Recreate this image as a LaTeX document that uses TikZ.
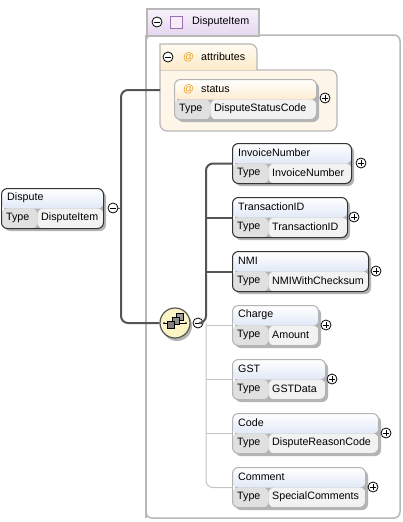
\documentclass[tikz,border=0pt]{standalone}
\usepackage{fontspec}
\setmainfont{Liberation Sans}
\definecolor{hdblue}{HTML}{C3D4F0}
\definecolor{hdorange}{HTML}{FCD9A0}
\definecolor{typec}{HTML}{E0E0E0}
\definecolor{valc}{HTML}{F2F2F2}
\definecolor{darkb}{HTML}{333333}
\definecolor{lightb}{HTML}{B4B4B4}
\definecolor{contb}{HTML}{B8B8B8}
\definecolor{lavtop}{HTML}{F8F2FC}
\definecolor{lavbot}{HTML}{E4D6EE}
\definecolor{creamtop}{HTML}{FFFBF2}
\definecolor{creambot}{HTML}{FDE9C8}
\definecolor{creamfill}{HTML}{FDF6E9}
\definecolor{seqfill}{HTML}{FBF5C6}
\definecolor{darkline}{HTML}{555555}
\definecolor{lightline}{HTML}{C4C4C4}
\definecolor{shadowc}{HTML}{B4B4B4}
\definecolor{sqborder}{HTML}{9B6FB0}
\definecolor{sqfill}{HTML}{F4EDF8}
\definecolor{atorange}{HTML}{E8A020}
\definecolor{icA}{HTML}{9A9A9A}
\definecolor{icB}{HTML}{8C8C8C}
\definecolor{icC}{HTML}{808080}
\tikzset{
  lbl/.style={inner sep=0pt, font=\fontsize{10.7}{12}\selectfont, text=black},
  pmc/.style={draw=black, circle, line width=0.8pt, minimum size=10pt, inner sep=0pt, fill=white},
  darkconn/.style={draw=darkline, line width=2pt, rounded corners=7pt},
  lightconn/.style={draw=lightline, line width=1pt, rounded corners=7pt},
}
% #1 name, #2 x, #3 y, #4 width, #5 title, #6 type, #7 border, #8 header colour
\newcommand\xelem[8]{%
  \fill[shadowc, rounded corners=6pt] ({#2+3},{#3+3}) rectangle ({#2+#4+3},{#3+43});
  \node[draw=#7, line width=1pt, rounded corners=6pt, inner sep=0pt,
    minimum width=#4pt, minimum height=40pt, anchor=north west,
    path picture={
      \shade[top color=white, bottom color=#8] (path picture bounding box.north west) rectangle (path picture bounding box.east);
      \fill[typec] (path picture bounding box.west) rectangle ([xshift=36pt]path picture bounding box.south west);
      \fill[valc] ([xshift=36pt]path picture bounding box.west) rectangle (path picture bounding box.south east);
    }] (#1) at (#2,#3) {};
  \node[lbl, anchor=west] (#1-t) at ({#2+6},{#3+10}) {#5};
  \node[lbl, anchor=west] (#1-k) at ({#2+5},{#3+30}) {Type};
  \node[lbl, anchor=west] (#1-v) at ({#2+40},{#3+30}) {#6};
}
\newcommand\xplus[3]{%
  \node[pmc] (#1) at (#2,#3) {};
  \draw[line width=0.8pt] ([xshift=-2.6pt]#1.center) -- ([xshift=2.6pt]#1.center);
  \draw[line width=0.8pt] ([yshift=-2.6pt]#1.center) -- ([yshift=2.6pt]#1.center);
}
\newcommand\xminus[3]{%
  \node[pmc] (#1) at (#2,#3) {};
  \draw[line width=0.8pt] ([xshift=-2.6pt]#1.center) -- ([xshift=2.6pt]#1.center);
}
\begin{document}
\begin{tikzpicture}[x=1pt, y=-1pt]
\useasboundingbox (0,0) rectangle (402,522);
% DisputeItem container
\draw[contb, line width=1.5pt, fill=white, rounded corners=6pt] (146,35) -- (400,35) -- (400,518) -- (146,518) -- cycle;
\draw[contb, line width=1.5pt] (146,35) -- (146,518);
\node[draw=contb, line width=1.5pt, top color=lavtop, bottom color=lavbot, inner sep=0pt,
  minimum width=112pt, minimum height=27pt, anchor=north west] (ditemh) at (146,8) {};
\xminus{dimin}{157}{22}
\node[draw=sqborder, fill=sqfill, line width=1pt, minimum size=12pt, inner sep=0pt] (disq) at (176,22) {};
\node[lbl, anchor=west] (ditemt) at (192,22) {DisputeItem};
% attributes
\fill[creamfill, draw=contb, line width=1.2pt, rounded corners=7pt] (160,70) -- (337,70) -- (337,131) -- (160,131) [sharp corners] -- cycle;
\node[inner sep=0pt, minimum width=177pt, minimum height=61pt, anchor=north west] (attrbox) at (160,70) {};
\shade[top color=creamtop, bottom color=creambot] (160,44) [rounded corners=7pt] -- (257,44) [sharp corners] -- (257,70) -- (160,70) -- cycle;
\draw[contb, line width=1.2pt] (160,70) -- (160,44) [rounded corners=7pt] -- (257,44) [sharp corners] -- (257,70);
\xminus{atmin}{168}{57}
\node[lbl, anchor=west, text=atorange] (atat) at (183,57) {@};
\node[lbl, anchor=west] (att) at (201,57) {attributes};
% status attribute
\xelem{status}{174}{79}{142}{}{DisputeStatusCode}{lightb}{hdorange}
\node[lbl, anchor=west, text=atorange] (stat) at (183,89) {@};
\node[lbl, anchor=west] (stt) at (201,89) {status};
\xplus{stplus}{325}{98}
% Dispute
\xelem{disp}{1}{188}{102}{Dispute}{DisputeItem}{darkb}{hdblue}
\xminus{dpmin}{113}{208}
% children
\xelem{inv}{232}{143}{119}{InvoiceNumber}{InvoiceNumber}{darkb}{hdblue}
\xplus{invp}{361}{163}
\xelem{trn}{232}{197}{115}{TransactionID}{TransactionID}{darkb}{hdblue}
\xplus{trnp}{354}{217}
\xelem{nmi}{232}{251}{136}{NMI}{NMIWithChecksum}{darkb}{hdblue}
\xplus{nmip}{376}{271}
\xelem{chg}{232}{305}{86}{Charge}{Amount}{lightb}{hdblue}
\xplus{chgp}{326}{325}
\xelem{gst}{232}{359}{93}{GST}{GSTData}{lightb}{hdblue}
\xplus{gstp}{332}{379}
\xelem{code}{232}{413}{146}{Code}{DisputeReasonCode}{lightb}{hdblue}
\xplus{codep}{386}{433}
\xelem{cmt}{232}{467}{133}{Comment}{SpecialComments}{lightb}{hdblue}
\xplus{cmtp}{373}{487}
% sequence compositor
\fill[shadowc] (177,326) circle (15);
\node[draw=darkline, fill=seqfill, circle, line width=1.2pt, minimum size=30pt, inner sep=0pt] (seq) at (175,323) {};
\draw[black, line width=0.8pt] (164,323) -- (186,323);
\fill[black] (164,323) circle (1);
\fill[black] (186,323) circle (1);
\draw[black, fill=icA, line width=0.6pt] (176,313) rectangle (183,320);
\draw[black, fill=icB, line width=0.6pt] (172,317) rectangle (179,324);
\draw[black, fill=icC, line width=0.6pt] (167,321) rectangle (174,328);
\xminus{seqmin}{198}{323}
% connectors
\coordinate (sa) at (160,90);
\coordinate (spine) at (121,208);
\coordinate (cs) at (206,323);
\draw[darkconn] (sa) -| (spine) |- (seq.west);
\draw[darkline, line width=1pt] (dpmin.east) -- (spine);
\draw[lightconn] (cs) |- (cmt.west);
\draw[lightconn] (cs |- chg.west) -- (chg.west);
\draw[lightconn] (cs |- gst.west) -- (gst.west);
\draw[lightconn] (cs |- code.west) -- (code.west);
\draw[darkconn] (seqmin.east) -- (cs) |- (inv.west);
\draw[darkconn] (cs |- trn.west) -- (trn.west);
\draw[darkconn] (cs |- nmi.west) -- (nmi.west);
\end{tikzpicture}
\end{document}
